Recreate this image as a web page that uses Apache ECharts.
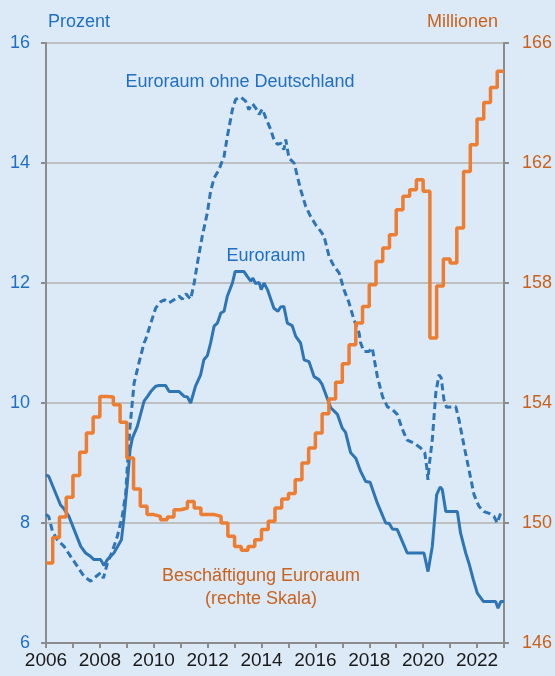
<!DOCTYPE html>
<html>
<head>
<meta charset="utf-8">
<title>Arbeitslosigkeit und Beschäftigung im Euroraum</title>
<script src="https://cdn.jsdelivr.net/npm/echarts@6.0.0/dist/echarts.min.js"></script>
<style>
  html, body { margin: 0; padding: 0; background: #dce9f7; }
  #chart { width: 555px; height: 676px; }
</style>
</head>
<body>
<div id="chart"></div>
<script>
// Arbeitslosenquote Euroraum (Prozent), Zeitpunkte als Dezimaljahr
var ezTime = [2006.0, 2006.1, 2006.54, 2006.66, 2006.85, 2007.29, 2007.47, 2007.66, 2007.78, 2008.03,
  2008.15, 2008.28, 2008.52, 2008.8, 2008.9, 2009.02, 2009.12, 2009.21, 2009.39, 2009.64,
  2009.77, 2009.89, 2010.07, 2010.2, 2010.44, 2010.57, 2010.94, 2011.13, 2011.25, 2011.37,
  2011.55, 2011.74, 2011.86, 2011.99, 2012.11, 2012.24, 2012.36, 2012.49, 2012.61, 2012.73,
  2012.92, 2013.02, 2013.35, 2013.47, 2013.6, 2013.68, 2013.78, 2013.91, 2013.99, 2014.09,
  2014.22, 2014.46, 2014.61, 2014.71, 2014.83, 2014.96, 2015.14, 2015.27, 2015.45, 2015.58,
  2015.76, 2015.95, 2016.13, 2016.25, 2016.44, 2016.57, 2016.82, 2017.0, 2017.12, 2017.31,
  2017.5, 2017.68, 2017.87, 2018.03, 2018.3, 2018.61, 2018.74, 2018.86, 2019.04, 2019.23,
  2019.41, 2020.03, 2020.18, 2020.34, 2020.5, 2020.63, 2020.71, 2020.84, 2021.27, 2021.39,
  2021.58, 2021.7, 2021.86, 2022.01, 2022.24, 2022.69, 2022.78, 2022.88, 2023.0];
var ezRate = [8.8, 8.78, 8.3, 8.24, 8.11, 7.61, 7.5, 7.44, 7.39, 7.39,
  7.29, 7.39, 7.5, 7.72, 8.11, 8.67, 9.22, 9.42, 9.61, 10.03,
  10.11, 10.19, 10.28, 10.29, 10.29, 10.19, 10.19, 10.11, 10.1, 10.0,
  10.28, 10.47, 10.72, 10.79, 11.0, 11.28, 11.33, 11.5, 11.53, 11.78,
  12.0, 12.19, 12.19, 12.11, 12.03, 12.08, 11.99, 12.01, 11.89, 12.0,
  11.89, 11.58, 11.53, 11.6, 11.61, 11.33, 11.29, 11.11, 11.0, 10.72,
  10.69, 10.44, 10.39, 10.31, 10.08, 9.92, 9.81, 9.58, 9.51, 9.17,
  9.08, 8.86, 8.69, 8.68, 8.33, 8.0, 7.99, 7.9, 7.89, 7.69,
  7.5, 7.5, 7.19, 7.61, 8.47, 8.6, 8.56, 8.19, 8.19, 7.83,
  7.5, 7.33, 7.06, 6.83, 6.69, 6.69, 6.58, 6.69, 6.69];

// Arbeitslosenquote Euroraum ohne Deutschland (Prozent)
var exDeTime = [2006.0, 2006.1, 2006.24, 2006.42, 2006.67, 2006.92, 2007.16, 2007.41, 2007.66, 2007.78,
  2008.03, 2008.13, 2008.28, 2008.46, 2008.65, 2008.83, 2008.96, 2009.02, 2009.12, 2009.27,
  2009.45, 2009.64, 2009.7, 2009.89, 2010.07, 2010.26, 2010.4, 2010.57, 2010.75, 2010.94,
  2011.06, 2011.19, 2011.37, 2011.5, 2011.62, 2011.8, 2011.99, 2012.11, 2012.24, 2012.42,
  2012.61, 2012.73, 2012.92, 2013.04, 2013.23, 2013.41, 2013.53, 2013.66, 2013.78, 2013.91,
  2014.03, 2014.16, 2014.34, 2014.46, 2014.59, 2014.73, 2014.83, 2014.9, 2015.02, 2015.21,
  2015.33, 2015.45, 2015.64, 2015.82, 2016.01, 2016.2, 2016.32, 2016.51, 2016.69, 2016.88,
  2017.06, 2017.25, 2017.43, 2017.62, 2017.68, 2017.8, 2017.99, 2018.11, 2018.3, 2018.49,
  2018.67, 2018.86, 2019.04, 2019.23, 2019.41, 2019.66, 2019.91, 2020.06, 2020.13, 2020.18,
  2020.22, 2020.34, 2020.47, 2020.59, 2020.67, 2020.77, 2020.87, 2021.21, 2021.33, 2021.52,
  2021.7, 2021.89, 2022.07, 2022.26, 2022.45, 2022.63, 2022.75, 2022.88, 2023.0];
var exDeRate = [8.14, 8.11, 7.86, 7.72, 7.61, 7.44, 7.28, 7.11, 7.03, 7.08,
  7.17, 7.08, 7.33, 7.53, 7.78, 8.11, 8.5, 8.94, 9.61, 10.33,
  10.67, 11.0, 11.06, 11.33, 11.58, 11.69, 11.72, 11.67, 11.72, 11.78,
  11.73, 11.82, 11.73, 12.0, 12.33, 12.78, 13.17, 13.53, 13.75, 13.89,
  14.11, 14.44, 14.89, 15.06, 15.1, 15.03, 14.89, 14.99, 14.92, 14.81,
  14.9, 14.75, 14.56, 14.39, 14.31, 14.33, 14.22, 14.39, 14.08, 14.0,
  13.78, 13.56, 13.28, 13.11, 12.97, 12.86, 12.78, 12.44, 12.28, 12.17,
  11.89, 11.67, 11.39, 11.17, 11.0, 10.86, 10.86, 10.92, 10.44, 10.11,
  9.94, 9.89, 9.81, 9.56, 9.38, 9.33, 9.25, 9.17, 8.94, 8.72,
  8.94, 9.39, 10.17, 10.47, 10.42, 10.06, 9.93, 9.94, 9.72, 9.28,
  8.89, 8.47, 8.28, 8.19, 8.16, 8.11, 8.0, 8.17, 8.17];

// Beschäftigung Euroraum (Millionen), Quartale ab 2006 Q1
var empStartYear = 2006;
var employment = [
  148.67, 149.52, 150.2, 150.86,
  151.58, 152.36, 153.0, 153.53,
  154.22, 154.2, 153.94, 153.36,
  152.17, 151.13, 150.56, 150.28,
  150.22, 150.11, 150.2, 150.44,
  150.5, 150.72, 150.5, 150.28,
  150.28, 150.22, 150.0, 149.56,
  149.22, 149.09, 149.22, 149.44,
  149.78, 150.06, 150.5, 150.8,
  150.98, 151.44, 152.0, 152.5,
  153.0, 153.64, 154.13, 154.69,
  155.31, 155.94, 156.67, 157.22,
  157.94, 158.72, 159.17, 159.61,
  160.44, 160.89, 161.11, 161.44,
  161.06, 156.17, 157.9, 158.8,
  158.67, 159.83, 161.72, 162.61,
  163.47, 164.02, 164.52, 165.06
];

var leftTicks = [6, 16, 2];
var rightTicks = [146, 166, 4];
var yearRange = [2006, 2023];

var blue = "#2e75b6";
var blueText = "#1f6fc5";
var orange = "#ed7d31";
var orangeText = "#c9621c";
var font = "'Liberation Sans', Arial, sans-serif";

function pairs(xs, ys) {
  var out = [];
  for (var i = 0; i < xs.length; i++) {
    out.push([xs[i], ys[i]]);
  }
  return out;
}

var empData = [];
for (var i = 0; i < employment.length; i++) {
  empData.push([empStartYear + i / 4, employment[i]]);
}
// letzter Quartalswert bis zum Achsenende halten
empData.push([yearRange[1], employment[employment.length - 1]]);

var chart = echarts.init(document.getElementById("chart"));
chart.setOption({
  animation: false,
  backgroundColor: "#dce9f7",
  textStyle: { fontFamily: font },
  grid: { left: 46, right: 51, top: 43, bottom: 33 },
  xAxis: {
    type: "value",
    min: yearRange[0],
    max: yearRange[1],
    interval: 1,
    axisLine: { show: true, lineStyle: { color: "#8c8c8c", width: 2 } },
    axisTick: { show: true, length: 5, lineStyle: { color: "#8c8c8c", width: 2 } },
    axisLabel: {
      margin: 8,
      color: "#1a1a1a",
      fontSize: 19,
      fontFamily: "'Liberation Sans Narrow', 'Arial Narrow', 'Liberation Sans', sans-serif",
      formatter: function (v) {
        return v % 2 === 0 ? String(v) : "";
      }
    },
    splitLine: { show: false }
  },
  yAxis: [
    {
      type: "value",
      position: "left",
      min: leftTicks[0],
      max: leftTicks[1],
      interval: leftTicks[2],
      axisLine: { show: true, lineStyle: { color: "#8c8c8c", width: 2 } },
      axisTick: { show: true, length: 5, lineStyle: { color: "#8c8c8c", width: 2 } },
      axisLabel: { margin: 16, color: blueText, fontSize: 18 },
      splitLine: { show: true, lineStyle: { color: "#bfbfbf", width: 2 } }
    },
    {
      type: "value",
      position: "right",
      min: rightTicks[0],
      max: rightTicks[1],
      interval: rightTicks[2],
      axisLine: { show: true, lineStyle: { color: "#8c8c8c", width: 2 } },
      axisTick: { show: true, length: 5, lineStyle: { color: "#8c8c8c", width: 2 } },
      axisLabel: { margin: 18, color: orangeText, fontSize: 18 },
      splitLine: { show: false }
    }
  ],
  graphic: [
    { type: "text", style: { text: "Prozent", x: 48, y: 22, fill: blueText, font: "18px " + font, align: "left", verticalAlign: "middle" } },
    { type: "text", style: { text: "Millionen", x: 498, y: 22, fill: orangeText, font: "18px " + font, align: "right", verticalAlign: "middle" } },
    { type: "text", style: { text: "Euroraum ohne Deutschland", x: 240, y: 82, fill: blueText, font: "18px " + font, align: "center", verticalAlign: "middle" } },
    { type: "text", style: { text: "Euroraum", x: 266, y: 256, fill: blueText, font: "18px " + font, align: "center", verticalAlign: "middle" } },
    { type: "text", style: { text: "Beschäftigung Euroraum", x: 261, y: 576, fill: orangeText, font: "18px " + font, align: "center", verticalAlign: "middle" } },
    { type: "text", style: { text: "(rechte Skala)", x: 261, y: 599, fill: orangeText, font: "18px " + font, align: "center", verticalAlign: "middle" } }
  ],
  series: [
    {
      name: "Euroraum ohne Deutschland",
      type: "line",
      yAxisIndex: 0,
      showSymbol: false,
      data: pairs(exDeTime, exDeRate),
      lineStyle: { color: blue, width: 3, type: [7, 4] }
    },
    {
      name: "Euroraum",
      type: "line",
      yAxisIndex: 0,
      showSymbol: false,
      data: pairs(ezTime, ezRate),
      lineStyle: { color: blue, width: 3 }
    },
    {
      name: "Beschäftigung Euroraum",
      type: "line",
      yAxisIndex: 1,
      step: "end",
      showSymbol: false,
      data: empData,
      lineStyle: { color: orange, width: 3.5 }
    }
  ]
});
</script>
</body>
</html>
